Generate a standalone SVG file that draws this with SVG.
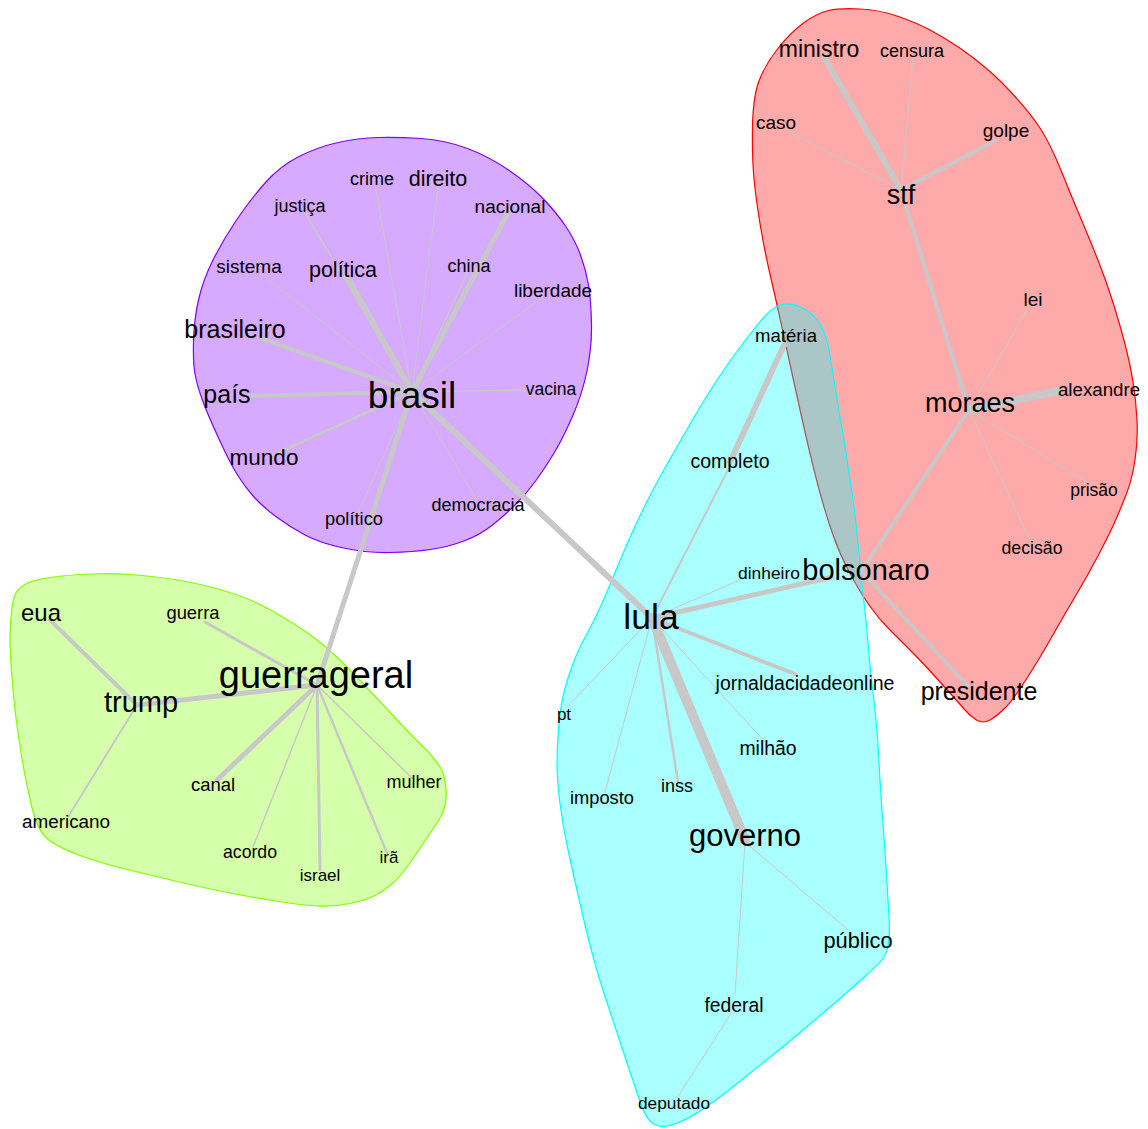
<svg xmlns="http://www.w3.org/2000/svg" width="1148" height="1129" viewBox="0 0 1148 1129">
<style>
.hull{stroke-width:1.2;stroke-linejoin:round}
.e{stroke:#C8C8C8;stroke-linecap:round;fill:none}
text{font-family:"Liberation Sans",Arial,sans-serif;fill:#000;text-anchor:middle}
</style>
<rect width="1148" height="1129" fill="#FFFFFF"/>
<g id="hulls">
<path id="hull-purple" class="hull" fill="#8000FF" fill-opacity="0.333" stroke="#8000FF" d="M378,137.5 Q398,137 421.5,138.5 Q445,140 467.5,148.5 Q490,157 510,171 Q530,185 543,198.5 Q556,212 565.5,226 Q575,240 580.5,255 Q586,270 588.5,285 Q591,300 591.5,323.5 Q592,347 587,371 Q582,395 572,417.5 Q562,440 553.5,454 Q545,468 536,480.5 Q527,493 516,504 Q505,515 492.5,525 Q480,535 464,541 Q448,547 430.5,549.5 Q413,552 390,552.5 Q367,553 343.5,548 Q320,543 305,535 Q290,527 276.5,517 Q263,507 254,497 Q245,487 237.5,475 Q230,463 218.5,438 Q207,413 202,399 Q197,385 195,374 Q193,363 193.5,341.5 Q194,320 198.5,300 Q203,280 213,260 Q223,240 236.5,220 Q250,200 265,183 Q280,166 299,156.5 Q318,147 338,142.5 Q358,138 378,137.5 Z"/>
<path id="hull-green" class="hull" fill="#80FF00" fill-opacity="0.333" stroke="#80FF00" d="M16.5,592 Q20,587 26.5,583.5 Q33,580 50,577.5 Q67,575 92,574 Q117,573 142,575.5 Q167,578 183.5,581 Q200,584 216.5,588.5 Q233,593 246.5,598.5 Q260,604 271.5,610.5 Q283,617 296.5,625.5 Q310,634 321.5,643.5 Q333,653 341.5,661.5 Q350,670 358.5,679 Q367,688 378.5,700 Q390,712 401.5,724.5 Q413,737 420,743.5 Q427,750 433.5,758 Q440,766 442.5,771.5 Q445,777 446,788.5 Q447,800 444.5,807.5 Q442,815 439.5,819 Q437,823 427,838 Q417,853 408.5,865 Q400,877 392.5,883.5 Q385,890 376,895 Q367,900 350,903.5 Q333,907 316.5,906 Q300,905 275,901 Q250,897 225,892 Q200,887 175,881 Q150,875 125,869 Q100,863 78.5,855 Q57,847 47,838.5 Q37,830 31,803.5 Q25,777 21.5,756 Q18,735 15.5,714 Q13,693 11.5,671.5 Q10,650 10,638.5 Q10,627 11.5,612 Q13,597 16.5,592 Z"/>
<path id="hull-red" class="hull" fill="#FF0000" fill-opacity="0.333" stroke="#FF0000" d="M777.5,49 Q790,33 803.5,23 Q817,13 828.5,10.5 Q840,8 860,9 Q880,10 898.5,16.5 Q917,23 931,30.5 Q945,38 959,47.5 Q973,57 986.5,68.5 Q1000,80 1015,96.5 Q1030,113 1040,128 Q1050,143 1061.5,171.5 Q1073,200 1081.5,220 Q1090,240 1098.5,261.5 Q1107,283 1113.5,304 Q1120,325 1125,344 Q1130,363 1133,381.5 Q1136,400 1137,420 Q1138,440 1135,460 Q1132,480 1126,495 Q1120,510 1115,521.5 Q1110,533 1099,554 Q1088,575 1075.5,596 Q1063,617 1051.5,637.5 Q1040,658 1026.5,679 Q1013,700 1005,708 Q997,716 990,720 Q983,724 976.5,720 Q970,716 964.5,709.5 Q959,703 949.5,692.5 Q940,682 930.5,671.5 Q921,661 910.5,650.5 Q900,640 889,629 Q878,618 869,605 Q860,592 850,573.5 Q840,555 833,535 Q826,515 819.5,491 Q813,467 806.5,438.5 Q800,410 794,382.5 Q788,355 782,327.5 Q776,300 770.5,276.5 Q765,253 760.5,226.5 Q756,200 754,178.5 Q752,157 752.5,127 Q753,97 759,81 Q765,65 777.5,49 Z"/>
<path id="hull-cyan" class="hull" fill="#00FFFF" fill-opacity="0.333" stroke="#00FFFF" d="M780.5,305 Q789,302 800.5,307 Q812,312 819,322.5 Q826,333 829,350 Q832,367 834.5,383.5 Q837,400 840,416.5 Q843,433 846,453 Q849,473 852,493 Q855,513 857,533 Q859,553 861,573 Q863,593 865,611.5 Q867,630 868.5,648.5 Q870,667 872,683.5 Q874,700 876,720 Q878,740 879,761.5 Q880,783 882.5,816.5 Q885,850 886.5,875 Q888,900 889,916.5 Q890,933 888.5,943 Q887,953 883.5,958 Q880,963 865,976.5 Q850,990 832.5,1005 Q815,1020 799,1033.5 Q783,1047 766.5,1060 Q750,1073 733.5,1086.5 Q717,1100 700,1111 Q683,1122 671.5,1125 Q660,1128 653.5,1124 Q647,1120 642,1106.5 Q637,1093 627,1063 Q617,1033 605,996.5 Q593,960 583,916.5 Q573,873 568,850 Q563,827 560,803.5 Q557,780 557,765 Q557,750 558.5,730 Q560,710 563,696.5 Q566,683 572,666.5 Q578,650 585.5,636.5 Q593,623 600.5,606.5 Q608,590 615,572.5 Q622,555 634.5,527.5 Q647,500 661,475 Q675,450 689.5,425 Q704,400 717,380 Q730,360 744,342 Q758,324 765,316 Q772,308 780.5,305 Z"/>
</g>
<g id="edges">
<line class="e" stroke-width="1" x1="412" y1="392" x2="375" y2="185"/>
<line class="e" stroke-width="1" x1="412" y1="392" x2="438" y2="187"/>
<line class="e" stroke-width="1.5" x1="412" y1="392" x2="305" y2="213"/>
<line class="e" stroke-width="5" x1="412" y1="392" x2="508" y2="213"/>
<line class="e" stroke-width="1" x1="412" y1="392" x2="260" y2="273"/>
<line class="e" stroke-width="6" x1="412" y1="392" x2="347" y2="277"/>
<line class="e" stroke-width="1.5" x1="412" y1="392" x2="467" y2="273"/>
<line class="e" stroke-width="1" x1="412" y1="392" x2="543" y2="297"/>
<line class="e" stroke-width="4" x1="412" y1="392" x2="260" y2="338"/>
<line class="e" stroke-width="4" x1="412" y1="392" x2="248" y2="396"/>
<line class="e" stroke-width="1.5" x1="412" y1="392" x2="525" y2="390"/>
<line class="e" stroke-width="3" x1="412" y1="392" x2="273" y2="455"/>
<line class="e" stroke-width="1" x1="412" y1="392" x2="477" y2="500"/>
<line class="e" stroke-width="1" x1="412" y1="392" x2="358" y2="513"/>
<line class="e" stroke-width="5" x1="412" y1="392" x2="317" y2="685"/>
<line class="e" stroke-width="6" x1="412" y1="392" x2="652" y2="618"/>
<line class="e" stroke-width="6" x1="901" y1="190" x2="824" y2="57"/>
<line class="e" stroke-width="1" x1="901" y1="190" x2="913" y2="58"/>
<line class="e" stroke-width="1" x1="901" y1="190" x2="788" y2="131"/>
<line class="e" stroke-width="4" x1="901" y1="190" x2="995" y2="141"/>
<line class="e" stroke-width="4" x1="901" y1="190" x2="969" y2="410"/>
<line class="e" stroke-width="1" x1="969" y1="410" x2="1028" y2="308"/>
<line class="e" stroke-width="8" x1="969" y1="410" x2="1058" y2="391"/>
<line class="e" stroke-width="1" x1="969" y1="410" x2="1087" y2="482"/>
<line class="e" stroke-width="1" x1="969" y1="410" x2="1031" y2="542"/>
<line class="e" stroke-width="4" x1="969" y1="410" x2="862" y2="570"/>
<line class="e" stroke-width="4" x1="862" y1="572" x2="968" y2="686"/>
<line class="e" stroke-width="5" x1="652" y1="618" x2="832" y2="577"/>
<line class="e" stroke-width="6" x1="784" y1="345" x2="730" y2="462"/>
<line class="e" stroke-width="2" x1="730" y1="466" x2="652" y2="618"/>
<line class="e" stroke-width="1" x1="652" y1="618" x2="740" y2="580"/>
<line class="e" stroke-width="4" x1="652" y1="618" x2="795" y2="674"/>
<line class="e" stroke-width="1" x1="652" y1="618" x2="567" y2="707"/>
<line class="e" stroke-width="1" x1="652" y1="618" x2="605" y2="792"/>
<line class="e" stroke-width="2.5" x1="652" y1="618" x2="678" y2="782"/>
<line class="e" stroke-width="1" x1="652" y1="618" x2="765" y2="742"/>
<line class="e" stroke-width="10" x1="652" y1="618" x2="745" y2="840"/>
<line class="e" stroke-width="1" x1="745" y1="842" x2="848" y2="930"/>
<line class="e" stroke-width="1" x1="745" y1="842" x2="735" y2="995"/>
<line class="e" stroke-width="1" x1="732" y1="1012" x2="677" y2="1098"/>
<line class="e" stroke-width="3" x1="317" y1="685" x2="205" y2="622"/>
<line class="e" stroke-width="5" x1="317" y1="685" x2="137" y2="705"/>
<line class="e" stroke-width="4" x1="137" y1="705" x2="50" y2="620"/>
<line class="e" stroke-width="2" x1="137" y1="705" x2="68" y2="817"/>
<line class="e" stroke-width="5" x1="317" y1="685" x2="217" y2="780"/>
<line class="e" stroke-width="1.5" x1="317" y1="685" x2="253" y2="847"/>
<line class="e" stroke-width="3" x1="317" y1="685" x2="320" y2="870"/>
<line class="e" stroke-width="2.5" x1="317" y1="685" x2="387" y2="853"/>
<line class="e" stroke-width="1.5" x1="317" y1="685" x2="412" y2="778"/>
</g>
<g id="n-brasil"><text x="412" y="408" font-size="37">brasil</text></g>
<g id="n-crime"><text x="372" y="185" font-size="18">crime</text></g>
<g id="n-direito"><text x="438" y="186" font-size="21.5">direito</text></g>
<g id="n-justica"><text x="300" y="212" font-size="18">justiça</text></g>
<g id="n-nacional"><text x="510" y="213" font-size="19">nacional</text></g>
<g id="n-sistema"><text x="249" y="273" font-size="19">sistema</text></g>
<g id="n-politica"><text x="343" y="277" font-size="21.5">política</text></g>
<g id="n-china"><text x="469" y="272" font-size="18">china</text></g>
<g id="n-liberdade"><text x="553" y="297" font-size="19">liberdade</text></g>
<g id="n-brasileiro"><text x="235" y="338" font-size="25">brasileiro</text></g>
<g id="n-pais"><text x="227" y="403" font-size="25">país</text></g>
<g id="n-vacina"><text x="551" y="395" font-size="17.5">vacina</text></g>
<g id="n-mundo"><text x="264" y="465" font-size="22.5">mundo</text></g>
<g id="n-democracia"><text x="478" y="511" font-size="18">democracia</text></g>
<g id="n-politico"><text x="354" y="525" font-size="18.3">político</text></g>
<g id="n-ministro"><text x="819" y="57" font-size="23">ministro</text></g>
<g id="n-censura"><text x="912" y="57" font-size="18">censura</text></g>
<g id="n-caso"><text x="776" y="129" font-size="19">caso</text></g>
<g id="n-golpe"><text x="1006" y="137" font-size="19">golpe</text></g>
<g id="n-stf"><text x="901" y="204" font-size="27">stf</text></g>
<g id="n-lei"><text x="1033" y="306" font-size="19">lei</text></g>
<g id="n-alexandre"><text x="1099" y="396" font-size="18.7">alexandre</text></g>
<g id="n-moraes"><text x="970" y="412" font-size="27">moraes</text></g>
<g id="n-prisao"><text x="1094" y="496" font-size="17.5">prisão</text></g>
<g id="n-decisao"><text x="1032" y="554" font-size="17.7">decisão</text></g>
<g id="n-bolsonaro"><text x="866" y="580" font-size="29">bolsonaro</text></g>
<g id="n-presidente"><text x="979" y="700" font-size="25">presidente</text></g>
<g id="n-materia"><text x="786" y="342" font-size="18.6">matéria</text></g>
<g id="n-completo"><text x="730" y="468" font-size="19.5">completo</text></g>
<g id="n-dinheiro"><text x="769" y="579" font-size="17.4">dinheiro</text></g>
<g id="n-lula"><text x="651" y="629" font-size="35.5">lula</text></g>
<g id="n-jornaldacidadeonline"><text x="805" y="690" font-size="19.5">jornaldacidadeonline</text></g>
<g id="n-pt"><text x="564" y="720" font-size="17">pt</text></g>
<g id="n-milhao"><text x="768" y="755" font-size="19.4">milhão</text></g>
<g id="n-imposto"><text x="602" y="804" font-size="18.3">imposto</text></g>
<g id="n-inss"><text x="677" y="792" font-size="18">inss</text></g>
<g id="n-governo"><text x="745" y="846" font-size="31">governo</text></g>
<g id="n-publico"><text x="858" y="948" font-size="21.8">público</text></g>
<g id="n-federal"><text x="734" y="1012" font-size="19.3">federal</text></g>
<g id="n-deputado"><text x="674" y="1109" font-size="17.3">deputado</text></g>
<g id="n-eua"><text x="41" y="621" font-size="24">eua</text></g>
<g id="n-guerra"><text x="193" y="619" font-size="18.4">guerra</text></g>
<g id="n-guerrageral"><text x="316" y="688" font-size="38">guerrageral</text></g>
<g id="n-trump"><text x="141" y="712" font-size="29">trump</text></g>
<g id="n-canal"><text x="213" y="791" font-size="18.5">canal</text></g>
<g id="n-mulher"><text x="414" y="788" font-size="18">mulher</text></g>
<g id="n-americano"><text x="66" y="828" font-size="18.9">americano</text></g>
<g id="n-acordo"><text x="250" y="858" font-size="17.7">acordo</text></g>
<g id="n-israel"><text x="320" y="881" font-size="17">israel</text></g>
<g id="n-ira"><text x="389" y="863" font-size="17">irã</text></g>
</svg>
